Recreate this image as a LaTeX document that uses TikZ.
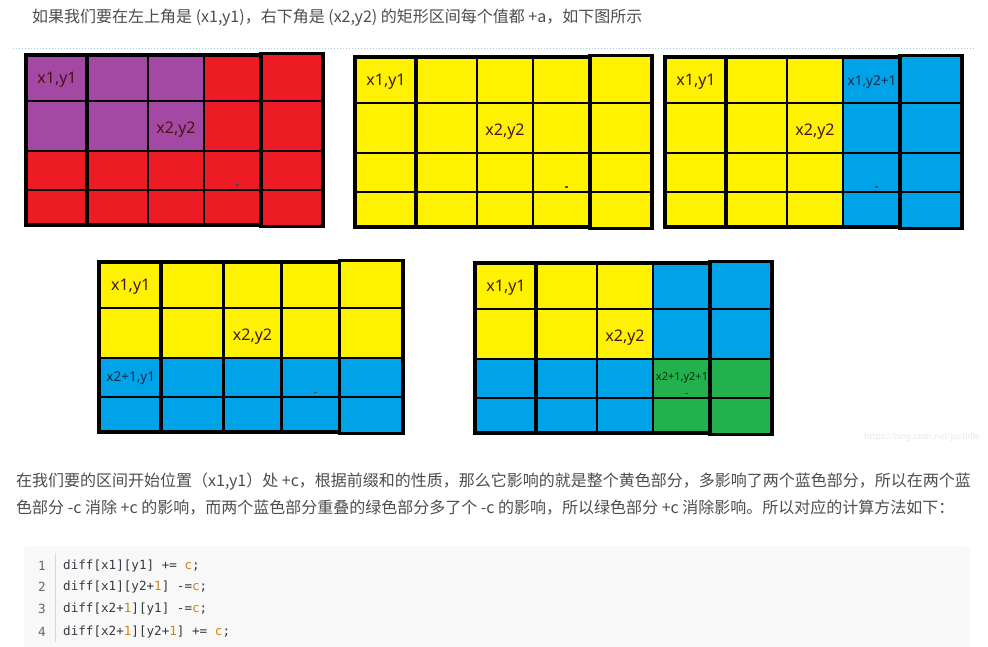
\documentclass[tikz,border=0pt]{standalone}
\usepackage{fontspec}
\setmainfont{Noto Sans}
\newfontfamily\cjk{Noto Sans CJK SC}
\newfontfamily\codefont{DejaVu Sans Mono}
\newfontfamily\labfont{Noto Sans}
\definecolor{pred}{HTML}{ED1C24}
\definecolor{ppurple}{HTML}{A349A4}
\definecolor{pyellow}{HTML}{FFF200}
\definecolor{pblue}{HTML}{00A2E8}
\definecolor{pgreen}{HTML}{22B14C}
\definecolor{labred}{HTML}{4A1410}
\definecolor{labblue}{HTML}{10284A}
\definecolor{labgreen}{HTML}{0A2A14}
\definecolor{para}{HTML}{4D4D4D}
\definecolor{codebg}{HTML}{F8F8F8}
\definecolor{codetxt}{HTML}{383A42}
\definecolor{codeor}{HTML}{C8861E}
\definecolor{lnum}{HTML}{666666}
\definecolor{rulec}{HTML}{A8C8E8}
\tikzset{
  outerline/.style={line width=3.6pt, line join=miter},
  innerline/.style={line width=2.8pt},
  firstline/.style={line width=4pt},
  lab/.style={font=\labfont\fontsize{16}{16}\selectfont, text=labred, inner sep=0pt},
  smalllab/.style={font=\labfont\fontsize{13.5}{13.5}\selectfont, text=labblue, inner sep=0pt},
  tinylab/.style={font=\labfont\fontsize{11}{11}\selectfont, text=labgreen, inner sep=0pt},
  paratext/.style={font=\cjk\fontsize{16}{16}\selectfont, text=para, inner sep=0pt, anchor=west},
  codetext/.style={font=\codefont\fontsize{12.6}{12.6}\selectfont, text=codetxt, inner sep=0pt, anchor=west},
  numtext/.style={font=\codefont\fontsize{12.6}{12.6}\selectfont, text=lnum, inner sep=0pt, anchor=east},
}
\newcommand{\gridlines}{%
  \foreach \gx in {122,178,235} \draw[innerline] (\gx,0) -- (\gx,170);
  \draw[firstline] (61,0) -- (61,170);
  \foreach \gy in {46,96,135} \draw[innerline] (0,\gy) -- (297,\gy);
  \draw[outerline] (0,0) rectangle (235,170);
  \draw[outerline] (235,-1.5) rectangle (297,171.5);
  \fill[black!70] (210,129.5) rectangle (213,130.6);
}
\newcommand{\basefill}[1]{%
  \fill[#1] (0,0) rectangle (297,170);
  \fill[#1] (235,-1.5) rectangle (297,171.5);
}
\begin{document}
\begin{tikzpicture}[x=1pt,y=-1pt]
\useasboundingbox (0,0) rectangle (988,647);
\fill[white] (0,0) rectangle (988,647);

% top sentence
\node[paratext] (top) at (32,18) {如果我们要在左上角是 (x1,y1)，右下角是 (x2,y2) 的矩形区间每个值都 +a，如下图所示};
\draw[rulec, dotted, line width=1pt] (13,49) -- (975,49);

% grid 1
\begin{scope}[shift={(26,55)}]
  \basefill{pred}
  \fill[ppurple] (0,0) rectangle (178,96);
  \gridlines
  \node[lab] (g1a) at (31,25) {x1,y1};
  \node[lab] (g1b) at (150,75) {x2,y2};
\end{scope}

% grid 2
\begin{scope}[shift={(355,57)}]
  \basefill{pyellow}
  \gridlines
  \node[lab] (g2a) at (31,25) {x1,y1};
  \node[lab] (g2b) at (150,75) {x2,y2};
\end{scope}

% grid 3
\begin{scope}[shift={(665,57)}]
  \basefill{pblue}
  \fill[pyellow] (0,0) rectangle (178,170);
  \gridlines
  \node[lab] (g3a) at (31,25) {x1,y1};
  \node[lab] (g3b) at (150,75) {x2,y2};
  \node[smalllab] (g3c) at (207,25) {x1,y2+1};
\end{scope}

% grid 4
\begin{scope}[shift={(99,262)}, xscale=1.0236]
  \basefill{pblue}
  \fill[pyellow] (0,0) rectangle (297,96);
  \fill[pyellow] (235,-1.5) rectangle (297,96);
  \gridlines
  \node[lab] (g4a) at (31,25) {x1,y1};
  \node[lab] (g4b) at (150,75) {x2,y2};
  \node[smalllab] (g4c) at (31,116) {x2+1,y1};
\end{scope}

% grid 5
\begin{scope}[shift={(475,263)}]
  \basefill{pblue}
  \fill[pyellow] (0,0) rectangle (178,96);
  \fill[pgreen] (178,96) rectangle (297,170);
  \fill[pgreen] (235,96) rectangle (297,171.5);
  \gridlines
  \node[lab] (g5a) at (31,25) {x1,y1};
  \node[lab] (g5b) at (150,75) {x2,y2};
  \node[tinylab] (g5c) at (207,115) {x2+1,y2+1};
\end{scope}

% watermark
\node[font=\labfont\fontsize{8.5}{8.5}\selectfont, text=black!9, inner sep=0pt] (wm) at (922,437) {https://blog.csdn.net/justidle};

% paragraph
\node[paratext] (p1) at (16,482) {在我们要的区间开始位置（x1,y1）处 +c，根据前缀和的性质，那么它影响的就是整个黄色部分，多影响了两个蓝色部分，所以在两个蓝};
\node[paratext] (p2) at (16,508) {色部分 -c 消除 +c 的影响，而两个蓝色部分重叠的绿色部分多了个 -c 的影响，所以绿色部分 +c 消除影响。所以对应的计算方法如下：};

% code block
\fill[codebg, rounded corners=4pt] (24,546) rectangle (970,662);
\draw[black!15, line width=1pt] (55,553) -- (55,642);
\node[numtext] (n1) at (46,565.7) {1};
\node[numtext] (n2) at (46,587.3) {2};
\node[numtext] (n3) at (46,609) {3};
\node[numtext] (n4) at (46,631.7) {4};
\node[codetext] (c1) at (63,565.7) {diff[x1][y1] += {\color{codeor}c};};
\node[codetext] (c2) at (63,587.3) {diff[x1][y2+{\color{codeor}1}] -={\color{codeor}c};};
\node[codetext] (c3) at (63,609) {diff[x2+{\color{codeor}1}][y1] -={\color{codeor}c};};
\node[codetext] (c4) at (63,631.7) {diff[x2+{\color{codeor}1}][y2+{\color{codeor}1}] += {\color{codeor}c};};
\end{tikzpicture}
\end{document}
